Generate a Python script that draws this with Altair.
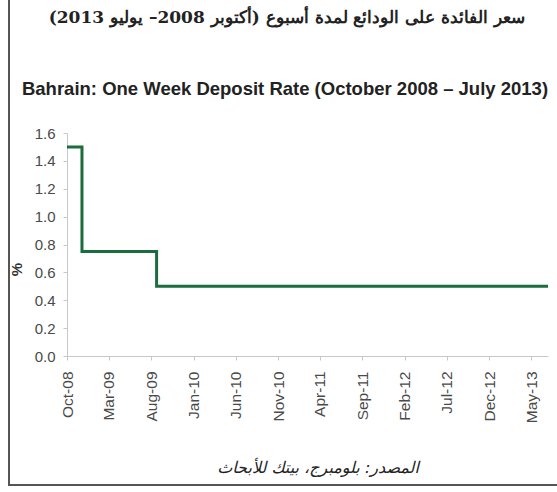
import altair as alt
import pandas as pd

# Step changes of the one-week deposit rate
dates = ["2008-10-01", "2008-11-24", "2009-08-20", "2013-07-01"]
rates = [1.5, 0.75, 0.5, 0.5]

tick_dates = ["2008-10-01", "2009-03-01", "2009-08-01", "2010-01-01", "2010-06-01",
              "2010-11-01", "2011-04-01", "2011-09-01", "2012-02-01", "2012-07-01",
              "2012-12-01", "2013-05-01"]
y_ticks = [0.0, 0.2, 0.4, 0.6, 0.8, 1.0, 1.2, 1.4, 1.6]

title_ar = "سعر الفائدة على الودائع لمدة أسبوع (أكتوبر 2008– يوليو 2013)"
title_en = "Bahrain: One Week Deposit Rate (October 2008 – July 2013)"
source_ar = "المصدر: بلومبرج، بيتك للأبحاث"

df = pd.DataFrame({"date": pd.to_datetime(dates), "rate": rates})

W, H = 481, 223

line = alt.Chart(df).mark_line(
    interpolate="step-after", color="#1b6d3d", strokeWidth=3
).encode(
    x=alt.X("date:T",
            scale=alt.Scale(domain=["2008-10-01", "2013-07-01"], nice=False),
            axis=alt.Axis(
                values=[pd.Timestamp(d).isoformat() for d in tick_dates],
                format="%b-%y", labelAngle=270, labelAlign="right",
                labelBaseline="middle", labelFontSize=15.5,
                labelColor="#4a4a4a", labelFont="Liberation Sans",
                domainColor="#c8c8c8", tickColor="#c8c8c8", tickSize=4,
                labelPadding=11, grid=False, title=None, labelOverlap=False)),
    y=alt.Y("rate:Q",
            scale=alt.Scale(domain=[0, 1.6], nice=False),
            axis=alt.Axis(
                values=y_ticks, format=".1f", labelFontSize=15,
                labelColor="#4a4a4a", labelFont="Liberation Sans",
                domainColor="#c8c8c8", tickColor="#c8c8c8", tickSize=4,
                labelPadding=8, grid=False, title="%", titleAngle=270,
                titleFontSize=15, titleFont="Liberation Sans",
                titleFontWeight="bold", titleColor="#333333",
                titleX=-51, titleY=136, titleAlign="center",
                titleBaseline="middle")),
)

def text(label, x, y, size, weight="normal", font="Liberation Serif", style="normal", color="#222222"):
    return alt.Chart(pd.DataFrame({"t": [label]})).mark_text(
        fontSize=size, fontWeight=weight, font=font, fontStyle=style,
        color=color, align="center", baseline="middle"
    ).encode(x=alt.value(x), y=alt.value(y), text="t:N")

t_ar = text(title_ar, 220, -115, 17, weight="bold", font="DejaVu Serif")
t_en = text(title_en, 218, -44, 18.5, weight="bold", font="Liberation Sans")
t_src = text(source_ar, 251, 335, 16, style="italic", font="DejaVu Sans")

frame_left = alt.Chart(pd.DataFrame({"a": [0]})).mark_rule(color="#555555", strokeWidth=2).encode(
    x=alt.value(-58), y=alt.value(-140), y2=alt.value(353))
frame_bottom = alt.Chart(pd.DataFrame({"a": [0]})).mark_rule(color="#555555", strokeWidth=2).encode(
    x=alt.value(-58), x2=alt.value(495), y=alt.value(352))

chart = alt.layer(line, t_ar, t_en, t_src, frame_left, frame_bottom).properties(
    width=W, height=H,
    autosize=alt.AutoSizeParams(type="none"),
    padding={"left": 67, "top": 133, "right": 9, "bottom": 136},
    background="white",
).configure_view(stroke=None)

chart.save("out.html", embed_options={"renderer": "svg", "actions": False})
